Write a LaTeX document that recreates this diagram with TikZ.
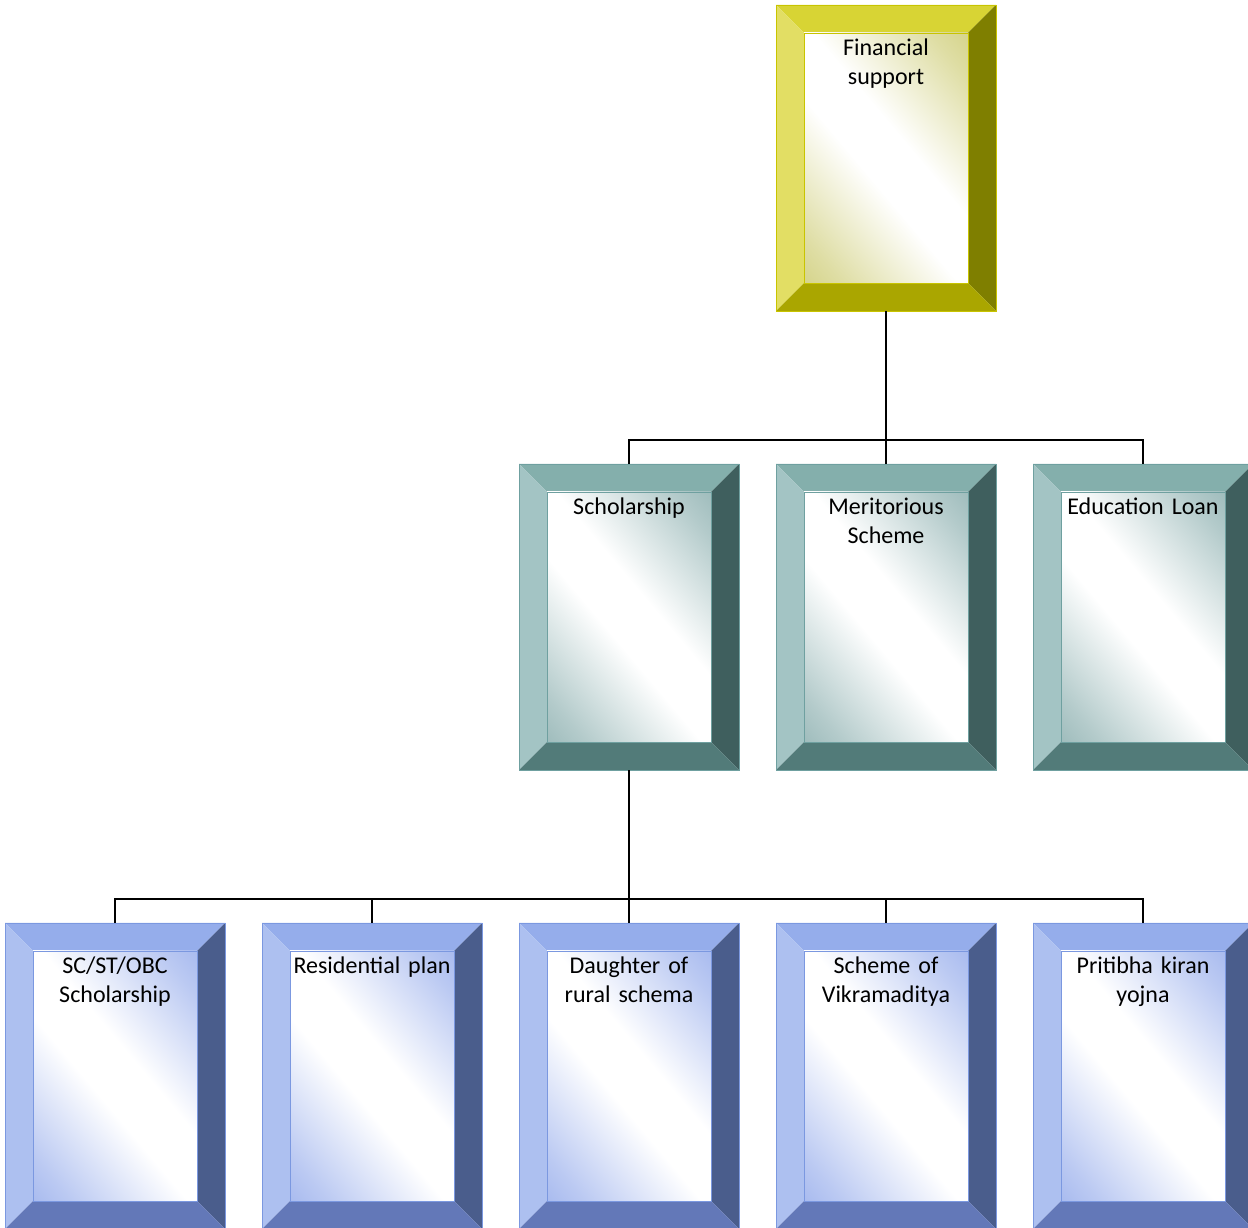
\documentclass[tikz,border=0pt]{standalone}
\usepackage{fontspec}
\setmainfont{Carlito}
\usetikzlibrary{calc}

% bevel colours
\definecolor{yelTop}{RGB}{216,212,52}
\definecolor{yelLeft}{RGB}{226,222,100}
\definecolor{yelRight}{RGB}{127,127,0}
\definecolor{yelBot}{RGB}{170,166,0}
\definecolor{yelEdge}{RGB}{200,196,0}
\definecolor{yelShade}{RGB}{196,194,90}
\definecolor{tealTop}{RGB}{132,175,172}
\definecolor{tealLeft}{RGB}{163,196,196}
\definecolor{tealRight}{RGB}{63,95,94}
\definecolor{tealBot}{RGB}{82,123,121}
\definecolor{tealEdge}{RGB}{111,160,160}
\definecolor{tealShade}{RGB}{118,160,160}
\definecolor{blueTop}{RGB}{149,173,235}
\definecolor{blueLeft}{RGB}{173,192,240}
\definecolor{blueRight}{RGB}{74,93,140}
\definecolor{blueBot}{RGB}{99,120,184}
\definecolor{blueEdge}{RGB}{123,152,224}
\definecolor{blueShade}{RGB}{132,158,232}

\pgfdeclarehorizontalshading{yelGlow}{100bp}{color(0bp)=(yelShade); color(22bp)=(yelShade!55!white); color(44bp)=(white); color(56bp)=(white); color(78bp)=(yelShade!55!white); color(100bp)=(yelShade)}
\pgfdeclarehorizontalshading{tealGlow}{100bp}{color(0bp)=(tealShade); color(22bp)=(tealShade!55!white); color(44bp)=(white); color(56bp)=(white); color(78bp)=(tealShade!55!white); color(100bp)=(tealShade)}
\pgfdeclarehorizontalshading{blueGlow}{100bp}{color(0bp)=(blueShade); color(22bp)=(blueShade!55!white); color(44bp)=(white); color(56bp)=(white); color(78bp)=(blueShade!55!white); color(100bp)=(blueShade)}

\tikzset{
  bevelbox/.style={draw=#1Edge, line width=0.8pt,
    minimum width=220pt, minimum height=306pt,
    inner xsep=28pt, inner ysep=28pt, text width=164pt, align=center,
    text height=23pt, text depth=227pt, font=\fontsize{24}{29}\selectfont,
    path picture={
      \coordinate (sw) at (path picture bounding box.south west);
      \coordinate (ne) at (path picture bounding box.north east);
      \coordinate (nw) at (sw |- ne);
      \coordinate (se) at (ne |- sw);
      \coordinate (isw) at ($(sw)+(28pt,28pt)$);
      \coordinate (ine) at ($(ne)-(28pt,28pt)$);
      \coordinate (inw) at (isw |- ine);
      \coordinate (ise) at (ine |- isw);
      \fill[#1Top] (nw) -- (ne) -- (ine) -- (inw) -- cycle;
      \fill[#1Left] (nw) -- (inw) -- (isw) -- (sw) -- cycle;
      \fill[#1Right] (ne) -- (se) -- (ise) -- (ine) -- cycle;
      \fill[#1Bot] (sw) -- (isw) -- (ise) -- (se) -- cycle;
      \shade[shading=#1Glow, shading angle=40] (isw) rectangle (ine);
      \draw[#1Edge, line width=0.6pt] (isw) rectangle (ine);
    }},
  link/.style={black, line width=1.6pt}
}

\begin{document}
\begin{tikzpicture}[x=1pt,y=1pt]
    \useasboundingbox (0,0) rectangle (1248,1227);

    \node[bevelbox=yel] (fin) at (886,1069) {Financial\\support};

    \node[bevelbox=teal] (sch) at (629,610) {Scholarship};
    \node[bevelbox=teal] (mer) at (886,610) {Meritorious\\Scheme};
    \node[bevelbox=teal] (edu) at (1143,610) {Education Loan};

    \node[bevelbox=blue] (scst) at (115,151) {SC/ST/OBC\\Scholarship};
    \node[bevelbox=blue] (res) at (372,151) {Residential plan};
    \node[bevelbox=blue] (dau) at (629,151) {Daughter of\\rural schema};
    \node[bevelbox=blue] (vik) at (886,151) {Scheme of\\Vikramaditya};
    \node[bevelbox=blue] (prk) at (1143,151) {Pritibha kiran\\yojna};

%    first level
    \coordinate (hubA) at (886,787);
    \draw[link] (fin.south) -- (hubA);
    \draw[link] (sch.north) |- (hubA) -| (edu.north);
    \draw[link] (mer.north) -- (hubA);

%    second level
    \coordinate (hubB) at (629,328);
    \draw[link] (sch.south) -- (hubB);
    \draw[link] (scst.north) |- (hubB) -| (prk.north);
    \draw[link] (res.north) -- (res.north |- hubB);
    \draw[link] (dau.north) -- (hubB);
    \draw[link] (vik.north) -- (vik.north |- hubB);

\end{tikzpicture}
\end{document}
